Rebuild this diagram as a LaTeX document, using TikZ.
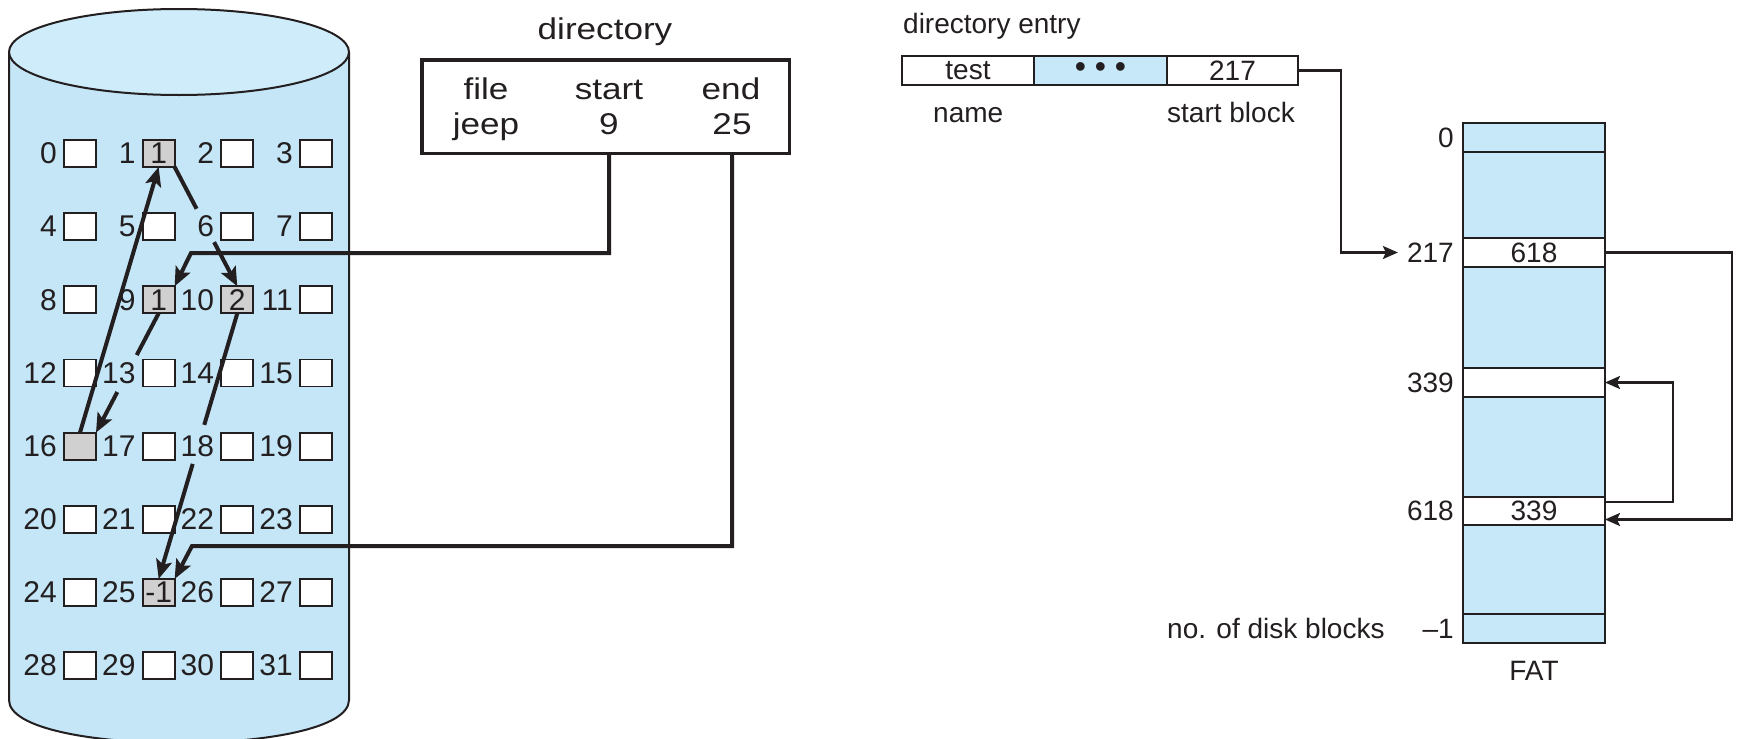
\documentclass[tikz,border=0pt]{standalone}
\usepackage{fontspec}
\setmainfont{Liberation Sans}
\newfontfamily\dirfont[FakeStretch=1.17]{Liberation Sans}
\usetikzlibrary{arrows.meta,calc}
\definecolor{cylblue}{RGB}{196,230,247}
\definecolor{cyltop}{RGB}{207,236,250}
\definecolor{fatblue}{RGB}{199,232,249}
\definecolor{boxgray}{RGB}{208,208,208}
\definecolor{ink}{RGB}{35,31,32}
\begin{document}
\begin{tikzpicture}[x=1pt,y=-1pt,
  blk/.style={draw=ink, line width=1.8pt, fill=white, minimum width=32pt, minimum height=27pt, inner sep=0pt, outer sep=0pt, text=ink, font=\fontsize{30}{30}\selectfont},
  num/.style={inner sep=0pt, text=ink, font=\fontsize{30}{30}\selectfont},
  dtxt/.style={inner sep=0pt, text=ink, font=\dirfont\fontsize{30}{30}\selectfont},
  rtxt/.style={inner sep=0pt, text=ink, font=\fontsize{28}{28}\selectfont},
  heavy/.style={draw=ink, line width=4pt},
  heavyarr/.style={heavy, -{Stealth[length=19pt,width=16pt,inset=4pt]}},
  thinarr/.style={draw=ink, line width=2.2pt, -{Stealth[length=15pt,width=13pt,inset=3pt]}},
  fatcell/.style={draw=ink, line width=2pt, minimum width=142pt, inner sep=0pt, outer sep=0pt, text=ink, font=\fontsize{28}{28}\selectfont},
  entry/.style={draw=ink, line width=1.6pt, minimum height=29pt, inner sep=0pt, outer sep=0pt, text=ink, font=\fontsize{28}{28}\selectfont}
]
\fill[white] (0,0) rectangle (1738,739);
\useasboundingbox (0,0) rectangle (1738,739);

% cylinder
\fill[cylblue] (9,52) -- (9,700) .. controls (9,757.3) and (349,757.3) .. (349,700) -- (349,52) -- cycle;
\draw[ink, line width=2pt] (9,52) -- (9,700) .. controls (9,757.3) and (349,757.3) .. (349,700) -- (349,52);
\draw[ink, line width=2pt, fill=cyltop] (179,52) ellipse [x radius=170, y radius=43];

% grid of blocks
\foreach \n in {0,...,31}{
  \pgfmathsetmacro\cx{80+78.65*mod(\n,4)}
  \pgfmathsetmacro\cy{153.5+73.15*floor(\n/4)}
  \node[blk] (b\n) at (\cx,\cy) {};
  \node[num, anchor=east] (l\n) at (\cx-23,\cy) {\n};
}
\node[blk, fill=boxgray] (b1) at (b1.center) {1};
\node[blk, fill=boxgray] (b9) at (b9.center) {1};
\node[blk, fill=boxgray] (b10) at (b10.center) {2};
\node[blk, fill=boxgray] (b16) at (b16.center) {};
\node[blk, fill=boxgray] (b25) at (b25.center) {-1};

% chain inside the disk
\draw[heavyarr] (b16.north) -- (b1.south);
\draw[heavy] (b1.south east) -- ($(b1.south east)!0.35!(b10.north)$);
\draw[heavyarr] ($(b1.south east)!0.63!(b10.north)$) -- (b10.north);
\draw[heavy] (b9.south) -- ($(b9.south)!0.35!(b16.north east)$);
\draw[heavyarr] ($(b9.south)!0.66!(b16.north east)$) -- (b16.north east);
\draw[heavy] (b10.south) -- ($(b10.south)!0.42!(b25.north)$);
\draw[heavyarr] ($(b10.south)!0.567!(b25.north)$) -- (b25.north);

% directory
\node[dtxt, anchor=base] (dtitle) at (605,39) {directory};
\node[draw=ink, line width=3.5pt, minimum width=367.5pt, minimum height=93.5pt, inner sep=0pt, outer sep=0pt] (dir) at (605.5,106.5) {};
\node[dtxt, anchor=base] (dfile) at (486,99) {file};
\node[dtxt, anchor=base] (dstart) at (609,99) {start};
\node[dtxt, anchor=base] (dend) at (731,99) {end};
\node[dtxt, anchor=base] (djeep) at (486,134) {jeep};
\node[dtxt, anchor=base] (d9) at (609,134) {9};
\node[dtxt, anchor=base] (d25) at (732,134) {25};
\coordinate (c1) at (191,253);
\coordinate (c2) at (192,546);
\draw[heavyarr] (d9 |- dir.south) |- (c1) -- (b9.north east);
\draw[heavyarr] (d25 |- dir.south) |- (c2) -- (b25.north east);

% directory entry
\node[rtxt, anchor=base west] (dentry) at (903,33) {directory entry};
\node[entry, minimum width=132pt] (e1) at (968,70.5) {test};
\node[entry, minimum width=133pt, fill=fatblue, font=\fontsize{32}{32}\selectfont] (e2) at (1100.5,70.5) {• • •};
\node[entry, minimum width=131pt] (e3) at (1232.5,70.5) {217};
\node[rtxt, anchor=base west] (lname) at (933,122) {name};
\node[rtxt, anchor=base west] (lsb) at (1167,122) {start block};

% FAT
\node[fatcell, fill=fatblue, minimum height=29pt] (f0) at (1534,137.5) {};
\node[fatcell, fill=fatblue, minimum height=86pt] (fA) at (1534,195) {};
\node[fatcell, fill=white, minimum height=29pt] (r217) at (1534,252.5) {618};
\node[fatcell, fill=fatblue, minimum height=101pt] (fB) at (1534,317.5) {};
\node[fatcell, fill=white, minimum height=29pt] (r339) at (1534,382.5) {};
\node[fatcell, fill=fatblue, minimum height=100pt] (fC) at (1534,447) {};
\node[fatcell, fill=white, minimum height=28pt] (r618) at (1534,511) {339};
\node[fatcell, fill=fatblue, minimum height=89pt] (fD) at (1534,569.5) {};
\node[fatcell, fill=fatblue, minimum height=29pt] (fE) at (1534,628.5) {};

\node[rtxt, anchor=east] (n0) at (1454,137.5) {0};
\node[rtxt, anchor=east] (n217) at (1454,252.5) {217};
\node[rtxt, anchor=east] (n339) at (1454,382.5) {339};
\node[rtxt, anchor=east] (n618) at (1454,511) {618};
\node[rtxt, anchor=east] (nm1) at (1454,628.5) {–1};
\node[rtxt, anchor=base west] (ndb) at (1167,638) {no. of disk blocks};
\node[rtxt] (fat) at (1534,671) {FAT};

\coordinate (k1) at (1341,70.5);
\draw[thinarr] (e3.east) -- (k1) |- ([xshift=-9pt]n217.west);
\coordinate (k2) at (1732,252.5);
\draw[thinarr] (r217.east) -- (k2) |- ([yshift=-8.5pt]r618.east);
\coordinate (k3) at (1673,502);
\draw[thinarr] ([yshift=9pt]r618.east) -- (k3) |- (r339.east);
\end{tikzpicture}
\end{document}
